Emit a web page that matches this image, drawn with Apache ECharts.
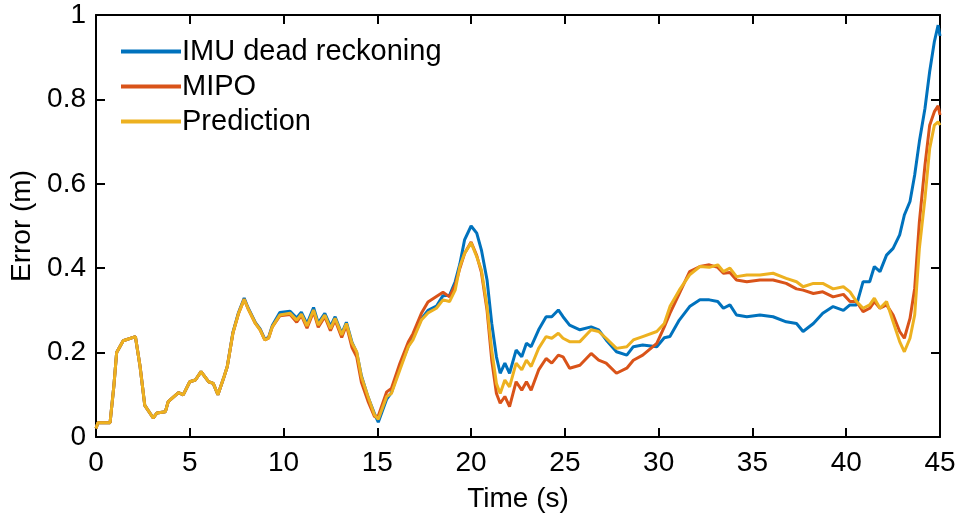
<!DOCTYPE html>
<html>
<head>
<meta charset="utf-8">
<script src="https://cdn.jsdelivr.net/npm/echarts@6/dist/echarts.min.js"></script>
<style>
  html, body { margin: 0; padding: 0; background: #fff; }
  #chart { width: 962px; height: 521px; }
</style>
</head>
<body>
<div id="chart"></div>
<script>
// time stamps (s), shared by all three curves
const time = [
  0, 0.1, 0.75, 0.95, 1.1, 1.45, 2.1, 2.35, 2.6, 3.05, 3.25, 3.7, 3.85, 4.4, 4.65,
  5.0, 5.3, 5.6, 6.0, 6.25, 6.5, 6.8, 7.0, 7.3, 7.6, 7.9, 8.1, 8.5, 8.75, 9.0,
  9.2, 9.4, 9.8, 10.35, 10.7, 10.95, 11.25, 11.6, 11.85, 12.2, 12.5, 12.75, 13.1,
  13.35, 13.65, 13.9, 14.15, 14.5, 14.85, 15.05, 15.5, 15.75, 16.2, 16.65, 16.9,
  17.35, 17.7, 18.15, 18.5, 18.85, 19.15, 19.4, 19.65, 20.0, 20.3, 20.55, 20.85,
  21.1, 21.35, 21.55, 21.8, 22.05, 22.4, 22.7, 22.95, 23.2, 23.6, 24.0, 24.3,
  24.65, 24.9, 25.25, 25.8, 26.4, 26.8, 27.2, 27.75, 28.3, 28.65, 29.15, 29.9,
  30.3, 30.6, 31.1, 31.65, 32.2, 32.7, 33.15, 33.45, 33.8, 34.15, 34.7, 35.4,
  36.1, 36.8, 37.35, 37.7, 38.25, 38.75, 39.3, 39.85, 40.2, 40.55, 40.9, 41.25,
  41.5, 41.8, 42.15, 42.5, 42.85, 43.1, 43.4, 43.65, 43.9, 44.2, 44.45, 44.7,
  44.9, 45.0
];

const imu = [
  0.02, 0.034, 0.034, 0.12, 0.2, 0.228, 0.238, 0.167, 0.075, 0.045, 0.057, 0.06, 0.084, 0.105, 0.1,
  0.131, 0.135, 0.155, 0.131, 0.127, 0.1, 0.139, 0.167, 0.248, 0.295, 0.329, 0.307, 0.271, 0.256, 0.232,
  0.236, 0.264, 0.295, 0.298, 0.282, 0.296, 0.268, 0.307, 0.27, 0.293, 0.262, 0.285, 0.245,
  0.272, 0.224, 0.2, 0.145, 0.095, 0.055, 0.035, 0.09, 0.105, 0.165, 0.215, 0.235,
  0.28, 0.3, 0.31, 0.335, 0.336, 0.368, 0.41, 0.467, 0.5, 0.483, 0.443, 0.372,
  0.269, 0.19, 0.151, 0.175, 0.151, 0.206, 0.19, 0.222, 0.214, 0.254, 0.285, 0.285,
  0.301, 0.285, 0.265, 0.254, 0.261, 0.254, 0.23, 0.202, 0.194, 0.214, 0.218, 0.214,
  0.235, 0.238, 0.277, 0.309, 0.325, 0.325, 0.321, 0.305, 0.313, 0.289, 0.285, 0.289,
  0.285, 0.273, 0.269, 0.25, 0.269, 0.293, 0.309, 0.3, 0.313, 0.313, 0.368, 0.368,
  0.404, 0.392, 0.431, 0.447, 0.479, 0.526, 0.558, 0.621, 0.7, 0.779, 0.866, 0.937,
  0.976, 0.95
];

const mipo = [
  0.02, 0.034, 0.034, 0.12, 0.2, 0.228, 0.238, 0.167, 0.075, 0.045, 0.057, 0.06, 0.084, 0.105, 0.1,
  0.131, 0.135, 0.155, 0.131, 0.127, 0.1, 0.139, 0.167, 0.246, 0.293, 0.326, 0.305, 0.269, 0.254, 0.23,
  0.234, 0.261, 0.287, 0.29, 0.272, 0.288, 0.258, 0.297, 0.26, 0.285, 0.252, 0.277, 0.236,
  0.265, 0.212, 0.19, 0.13, 0.085, 0.048, 0.05, 0.107, 0.115, 0.174, 0.225, 0.245,
  0.293, 0.32, 0.333, 0.343, 0.332, 0.36, 0.4, 0.435, 0.462, 0.43, 0.39, 0.3,
  0.182, 0.103, 0.08, 0.096, 0.072, 0.131, 0.111, 0.131, 0.111, 0.159, 0.186, 0.175,
  0.194, 0.19, 0.163, 0.17, 0.198, 0.182, 0.175, 0.151, 0.163, 0.182, 0.194, 0.222,
  0.261, 0.293, 0.34, 0.392, 0.404, 0.408, 0.402, 0.388, 0.39, 0.372, 0.368, 0.372,
  0.372, 0.364, 0.351, 0.348, 0.34, 0.344, 0.332, 0.338, 0.321, 0.321, 0.297, 0.305,
  0.321, 0.305, 0.313, 0.289, 0.25, 0.234, 0.281, 0.352, 0.51, 0.645, 0.739, 0.771,
  0.785, 0.763
];

const prediction = [
  0.02, 0.034, 0.034, 0.12, 0.2, 0.228, 0.238, 0.167, 0.075, 0.045, 0.057, 0.06, 0.084, 0.105, 0.1,
  0.131, 0.135, 0.155, 0.131, 0.127, 0.1, 0.139, 0.167, 0.246, 0.293, 0.326, 0.305, 0.269, 0.254, 0.23,
  0.234, 0.261, 0.289, 0.293, 0.277, 0.291, 0.263, 0.301, 0.265, 0.289, 0.257, 0.281, 0.242,
  0.269, 0.222, 0.202, 0.143, 0.096, 0.052, 0.042, 0.096, 0.103, 0.159, 0.214, 0.23,
  0.277, 0.294, 0.305, 0.325, 0.321, 0.348, 0.404, 0.435, 0.46, 0.427, 0.396, 0.309,
  0.206, 0.127, 0.103, 0.135, 0.119, 0.175, 0.159, 0.182, 0.167, 0.21, 0.238, 0.234,
  0.246, 0.234, 0.226, 0.226, 0.254, 0.25, 0.234, 0.21, 0.214, 0.23, 0.238, 0.25,
  0.269, 0.309, 0.348, 0.384, 0.404, 0.402, 0.408, 0.392, 0.4, 0.38, 0.384, 0.384,
  0.388, 0.376, 0.368, 0.356, 0.364, 0.364, 0.351, 0.356, 0.344, 0.321, 0.305, 0.313,
  0.329, 0.305, 0.321, 0.273, 0.226, 0.202, 0.234, 0.289, 0.447, 0.566, 0.684, 0.739,
  0.747, 0.739
];

const seriesNames = ["IMU dead reckoning", "MIPO", "Prediction"];
const yTicks = [0, 0.2, 0.4, 0.6, 0.8, 1];

function pairs(vals) {
  return time.map(function (t, i) { return [t, vals[i]]; });
}

const font = "Liberation Sans, Arial, sans-serif";
const colors = ["#0072BD", "#D95319", "#EDB120"];

let myChart = echarts.init(document.getElementById("chart"));
let axisLine = { show: true, onZero: false, lineStyle: { color: "#000", width: 2 } };
let tickIn = { show: true, inside: true, length: 9, lineStyle: { color: "#000", width: 2 } };

let option = {
  animation: false,
  backgroundColor: "#fff",
  color: colors,
  grid: { left: 96, right: 22, top: 15, bottom: 84 },
  legend: {
    orient: "vertical",
    left: 116,
    top: 32,
    itemWidth: 60,
    itemHeight: 4,
    itemGap: 6,
    icon: "rect",
    selectedMode: false,
    textStyle: { fontFamily: font, fontSize: 29, color: "#000", padding: [0, 0, 0, -4] },
    data: seriesNames
  },
  xAxis: [
    {
      type: "value",
      min: 0, max: 45, interval: 5,
      name: "Time (s)",
      nameLocation: "middle",
      nameGap: 48,
      nameTextStyle: { fontFamily: font, fontSize: 28, color: "#000" },
      axisLine: axisLine,
      axisTick: tickIn,
      axisLabel: { fontFamily: font, fontSize: 28, color: "#000", margin: 12 },
      splitLine: { show: false }
    },
    {
      type: "value", position: "top",
      min: 0, max: 45, interval: 5,
      axisLine: axisLine, axisTick: tickIn,
      axisLabel: { show: false }, splitLine: { show: false }
    }
  ],
  yAxis: [
    {
      type: "value",
      min: 0, max: 1, interval: 0.2,
      name: "Error (m)",
      nameLocation: "middle",
      nameGap: 60,
      nameTextStyle: { fontFamily: font, fontSize: 28, color: "#000" },
      axisLine: axisLine,
      axisTick: tickIn,
      axisLabel: { fontFamily: font, fontSize: 28, color: "#000", margin: 10,
        formatter: function (v) {
          let r = Math.round(v * 10) / 10;
          return yTicks.indexOf(r) >= 0 ? String(r) : "";
        } },
      splitLine: { show: false }
    },
    {
      type: "value", position: "right",
      min: 0, max: 1, interval: 0.2,
      axisLine: axisLine, axisTick: tickIn,
      axisLabel: { show: false }, splitLine: { show: false }
    }
  ],
  series: [
    { name: seriesNames[0], type: "line", data: pairs(imu), showSymbol: false, symbol: "none",
      lineStyle: { width: 3, color: colors[0] }, z: 2 },
    { name: seriesNames[1], type: "line", data: pairs(mipo), showSymbol: false, symbol: "none",
      lineStyle: { width: 3, color: colors[1] }, z: 3 },
    { name: seriesNames[2], type: "line", data: pairs(prediction), showSymbol: false, symbol: "none",
      lineStyle: { width: 3, color: colors[2] }, z: 4 }
  ]
};
myChart.setOption(option);
</script>
</body>
</html>
